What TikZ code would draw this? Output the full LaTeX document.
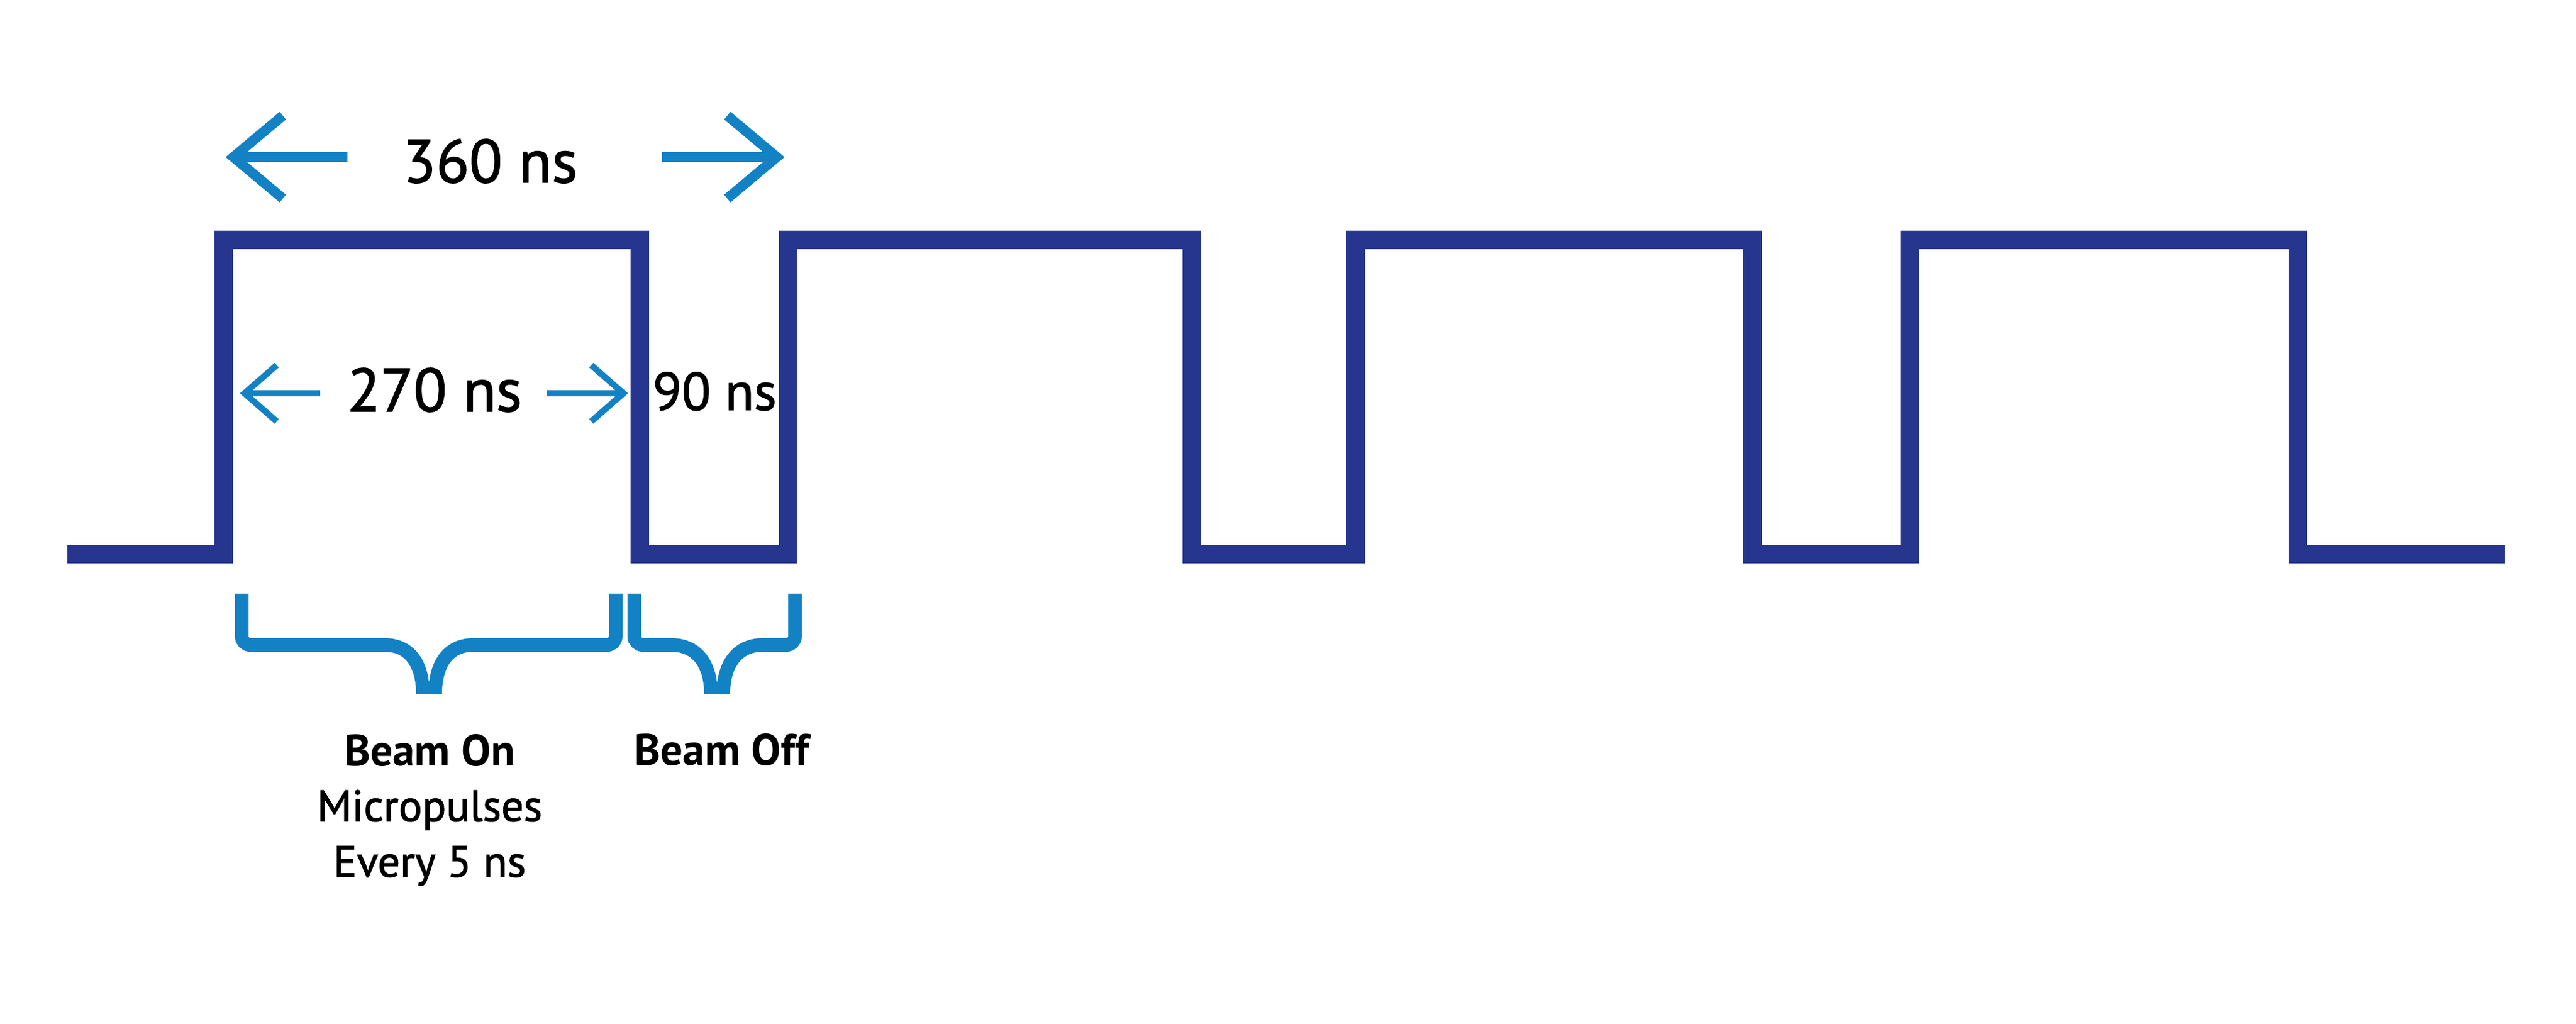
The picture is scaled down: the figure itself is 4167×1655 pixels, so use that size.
\documentclass[tikz,border=0pt]{standalone}
\usepackage{fontspec}
\setmainfont{PT Sans}
\newfontfamily\labfont{PT Sans}[FakeBold=1.5]
\usetikzlibrary{arrows.meta}
\definecolor{wavblue}{RGB}{38,54,143}
\definecolor{dimblue}{RGB}{18,130,197}

\begin{document}
\begin{tikzpicture}[x=0.1mm,y=-0.1mm,
  wave/.style={draw=wavblue,line width=3mm},
  dimbig/.style={dimblue,line width=1.6mm,-{Straight Barb[sharp,length=8mm,width=13.4mm]}},
  dimsmall/.style={dimblue,line width=1mm,-{Straight Barb[sharp,length=5.2mm,width=9.1mm]}},
  bracket/.style={dimblue,line width=2.2mm},
  lab/.style={inner sep=0pt,anchor=base}]%
\useasboundingbox (0,0) rectangle (4167,1655);%
% pulse train
\draw[wave] (109,896) -| (362,388) -| (1035,896) -| (1275,388) -| (1928,896) -| (2193,388) -| (2835,896) -| (3089,388) -| (3717,896) -- (4052,896);%
% labels
\node[lab,font=\labfont\fontsize{28}{34}\selectfont] (t360) at (793,295) {360 ns};%
\node[lab,font=\labfont\fontsize{28}{34}\selectfont] (t270) at (703,665) {270 ns};%
\node[lab,font=\labfont\fontsize{24.5}{30}\selectfont] (t90) at (1156,663) {90 ns};%
\node[lab,align=center,font=\labfont\fontsize{20.3}{25.6}\selectfont] (beamon) at (695,1418) {{\normalfont\bfseries Beam On}\\Micropulses\\Every 5 ns};%
\node[lab,font=\fontsize{20.3}{25.6}\selectfont\bfseries] (beamoff) at (1168,1237) {Beam Off};%
% dimension arrows
\coordinate (l360) at (365,254);%
\coordinate (r360) at (1269,254);%
\coordinate (l270) at (388,636);%
\coordinate (r270) at (1016,636);%
\draw[dimbig,shorten <=8.9mm] (t360.west |- l360) -- (l360);%
\draw[dimbig,shorten <=13.6mm] (t360.east |- r360) -- (r360);%
\draw[dimsmall,shorten <=4.3mm] (t270.west |- l270) -- (l270);%
\draw[dimsmall,shorten <=4mm] (t270.east |- r270) -- (r270);%
% braces
\draw[bracket] (391,960) [rounded corners=1.4mm] -- (391,1043) [sharp corners] -- (622,1043) .. controls (664,1043) and (684,1075) .. (684,1122);%
\draw[bracket] (996,960) [rounded corners=1.4mm] -- (996,1043) [sharp corners] -- (766,1043) .. controls (724,1043) and (704,1075) .. (704,1122);%
\draw[bracket] (1026,960) [rounded corners=1.4mm] -- (1026,1043) [sharp corners] -- (1086,1043) .. controls (1128,1043) and (1150,1075) .. (1150,1122);%
\draw[bracket] (1286,960) [rounded corners=1.4mm] -- (1286,1043) [sharp corners] -- (1234,1043) .. controls (1192,1043) and (1170,1075) .. (1170,1122);%
\end{tikzpicture}
\end{document}
